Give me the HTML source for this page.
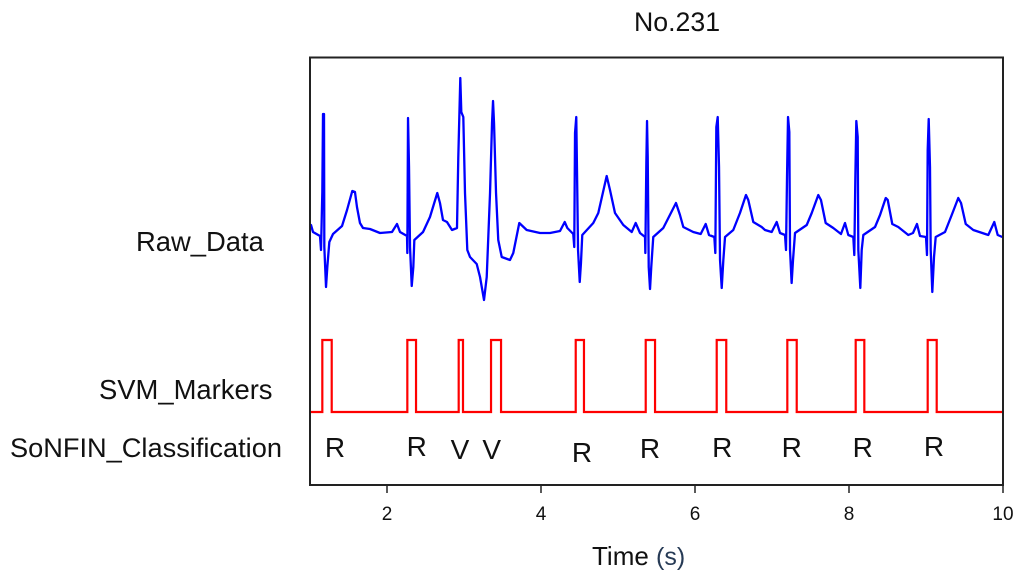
<!DOCTYPE html>
<html lang="en">
<head>
<meta charset="utf-8">
<title>No.231</title>
<style>
html,body{margin:0;padding:0;background:#fff;}
svg{display:block;}
text{font-family:"Liberation Sans",Arial,sans-serif;fill:#111;}
</style>
</head>
<body>
<svg id="chart" width="1024" height="579" viewBox="0 0 1024 579" xmlns="http://www.w3.org/2000/svg">
  <defs><filter id="soft" x="-5%" y="-5%" width="110%" height="110%"><feGaussianBlur stdDeviation="0.35"/></filter></defs>
  <rect x="0" y="0" width="1024" height="579" fill="#fff"/>
  <text x="634" y="31" font-size="26.7">No.231</text>
  <text x="136" y="251" font-size="27.4">Raw_Data</text>
  <text x="99" y="399" font-size="27.4">SVM_Markers</text>
  <text x="10" y="457" font-size="27.2">SoNFIN_Classification</text>
  <text x="592" y="565" font-size="26">Time <tspan font-size="25" fill="#263a55">(s)</tspan></text>
  <g id="series"></g>
  <rect x="310" y="57.5" width="693" height="427.5" fill="none" stroke="#222" stroke-width="2"/>
  <g id="axis"></g>
</svg>
<script>
const rawTime = [1.000,1.013,1.039,1.130,1.143,1.160,1.169,1.182,1.186,1.208,1.225,1.251,1.299,1.416,1.481,1.549,1.584,1.610,1.649,1.688,1.779,1.909,2.065,2.130,2.169,2.260,2.264,2.273,2.286,2.299,2.321,2.342,2.355,2.468,2.558,2.653,2.688,2.727,2.779,2.844,2.909,2.926,2.952,2.965,2.991,3.013,3.043,3.078,3.165,3.208,3.260,3.295,3.338,3.364,3.377,3.390,3.416,3.445,3.490,3.597,3.640,3.718,3.814,3.987,4.117,4.247,4.308,4.342,4.419,4.432,4.442,4.458,4.471,4.481,4.503,4.519,4.536,4.679,4.744,4.853,4.896,4.961,5.069,5.178,5.230,5.286,5.351,5.355,5.368,5.377,5.386,5.399,5.416,5.432,5.458,5.588,5.753,5.805,5.848,5.977,6.074,6.139,6.182,6.251,6.264,6.277,6.295,6.312,6.325,6.347,6.368,6.390,6.497,6.584,6.662,6.692,6.757,6.866,6.909,6.996,7.061,7.104,7.169,7.182,7.195,7.208,7.225,7.234,7.255,7.273,7.299,7.451,7.516,7.601,7.636,7.697,7.796,7.896,7.948,7.991,8.056,8.069,8.082,8.095,8.113,8.121,8.147,8.165,8.186,8.338,8.403,8.477,8.503,8.562,8.640,8.770,8.831,8.883,8.922,9.000,9.013,9.022,9.035,9.052,9.061,9.082,9.104,9.126,9.247,9.334,9.419,9.455,9.516,9.614,9.809,9.887,9.931,9.991];
const rawValue = [0.05,0.07,0,-0.04,-0.18,0.40,1.18,1.18,-0.15,-0.55,-0.35,-0.10,-0.02,0.06,0.22,0.41,0.40,0.25,0.09,0.04,0.03,-0.01,0,0.08,0,-0.04,-0.21,1.14,0.65,-0.15,-0.54,-0.35,-0.08,0,0.15,0.39,0.29,0.12,0.10,0.02,0.04,0.75,1.54,1.20,1.15,0.39,-0.18,-0.25,-0.32,-0.45,-0.68,-0.45,0.39,1.09,1.31,1.09,0.39,-0.08,-0.25,-0.28,-0.21,0.09,0.02,-0.01,-0.01,0.01,0.10,0.04,-0.02,-0.15,0.99,1.15,0.42,-0.18,-0.50,-0.31,-0.03,0.09,0.19,0.56,0.42,0.19,0.07,0,0.09,-0.01,-0.05,-0.21,0.69,1.11,0.75,-0.35,-0.57,-0.35,-0.05,0.04,0.29,0.17,0.05,0,-0.02,0.08,-0.03,-0.05,-0.21,1.05,1.15,0.65,-0.28,-0.56,-0.28,-0.05,0.02,0.19,0.37,0.32,0.10,0.05,0.02,0,0.10,-0.01,-0.03,-0.18,0.55,1.15,1.00,-0.18,-0.51,-0.28,-0.01,0.07,0.19,0.37,0.32,0.09,0.04,-0.02,0.09,-0.03,-0.05,-0.23,0.52,1.11,0.95,-0.18,-0.56,-0.18,-0.03,0.05,0.17,0.34,0.32,0.08,0.05,-0.03,-0.01,0.08,-0.04,-0.05,-0.23,0.82,1.13,0.65,-0.18,-0.60,-0.25,-0.05,0,0.17,0.34,0.29,0.08,0.02,-0.03,0.10,-0.03,-0.05];
const markerOn = [1.160,2.264,2.931,3.351,4.451,5.360,6.282,7.199,8.087,9.022];
const markerOff = [1.282,2.377,2.987,3.481,4.558,5.481,6.406,7.321,8.199,9.139];
const classLabels = ["R","R","V","V","R","R","R","R","R","R"];
const classTimes = [1.325,2.386,2.948,3.360,4.532,5.416,6.354,7.256,8.178,9.104];
const classLevels = [0,1,-2,-2,-5,-1,0,0,0,1];
const tickLabels = [2,4,6,8,10];

const NS = 'http://www.w3.org/2000/svg';
const xAxis = function (t) { return 310 + (t - 1) * 77; };
const yRaw = function (v) { return 232 - v * 100; };
const yMarker = function (m) { return 412 - m * 72; };
const yClass = function (c) { return 457 - c; };

const seriesGroup = document.getElementById('series');
const axisGroup = document.getElementById('axis');

let rawPath = '';
rawTime.forEach(function (t, i) {
  rawPath += (i ? 'L' : 'M') + xAxis(t).toFixed(2) + ' ' + yRaw(rawValue[i]).toFixed(2);
});
const rawLine = document.createElementNS(NS, 'path');


rawLine.setAttribute('d', rawPath);
rawLine.setAttribute('fill', 'none');
rawLine.setAttribute('stroke', '#0000ff');
rawLine.setAttribute('stroke-width', '2.3');
rawLine.setAttribute('stroke-linejoin', 'round');
rawLine.setAttribute('filter', 'url(#soft)');
seriesGroup.appendChild(rawLine);

let markerPath = 'M' + xAxis(1) + ' ' + yMarker(0);
markerOn.forEach(function (t, i) {
  markerPath += 'L' + xAxis(t).toFixed(2) + ' ' + yMarker(0);
  markerPath += 'L' + xAxis(t).toFixed(2) + ' ' + yMarker(1);
  markerPath += 'L' + xAxis(markerOff[i]).toFixed(2) + ' ' + yMarker(1);
  markerPath += 'L' + xAxis(markerOff[i]).toFixed(2) + ' ' + yMarker(0);
});
markerPath += 'L' + xAxis(10) + ' ' + yMarker(0);
const markerLine = document.createElementNS(NS, 'path');


markerLine.setAttribute('d', markerPath);
markerLine.setAttribute('fill', 'none');
markerLine.setAttribute('stroke', '#ff0000');
markerLine.setAttribute('stroke-width', '2.2');
markerLine.setAttribute('filter', 'url(#soft)');
seriesGroup.appendChild(markerLine);

classLabels.forEach(function (label, i) {
  const el = document.createElementNS(NS, 'text');
  
  
  el.setAttribute('x', xAxis(classTimes[i]));
  el.setAttribute('y', yClass(classLevels[i]));
  el.setAttribute('font-size', '28');
  el.setAttribute('text-anchor', 'middle');
  el.textContent = label;
  seriesGroup.appendChild(el);
});

tickLabels.forEach(function (t) {
  const tick = document.createElementNS(NS, 'line');
  
  
  tick.setAttribute('x1', xAxis(t));
  tick.setAttribute('x2', xAxis(t));
  tick.setAttribute('y1', 485);
  tick.setAttribute('y2', 493);
  tick.setAttribute('stroke', '#222');
  tick.setAttribute('stroke-width', '1.5');
  axisGroup.appendChild(tick);
  const lab = document.createElementNS(NS, 'text');
  
  
  lab.setAttribute('x', xAxis(t));
  lab.setAttribute('y', 520);
  lab.setAttribute('font-size', '19');
  lab.setAttribute('text-anchor', 'middle');
  lab.textContent = t;
  axisGroup.appendChild(lab);
});
</script>
</body>
</html>
